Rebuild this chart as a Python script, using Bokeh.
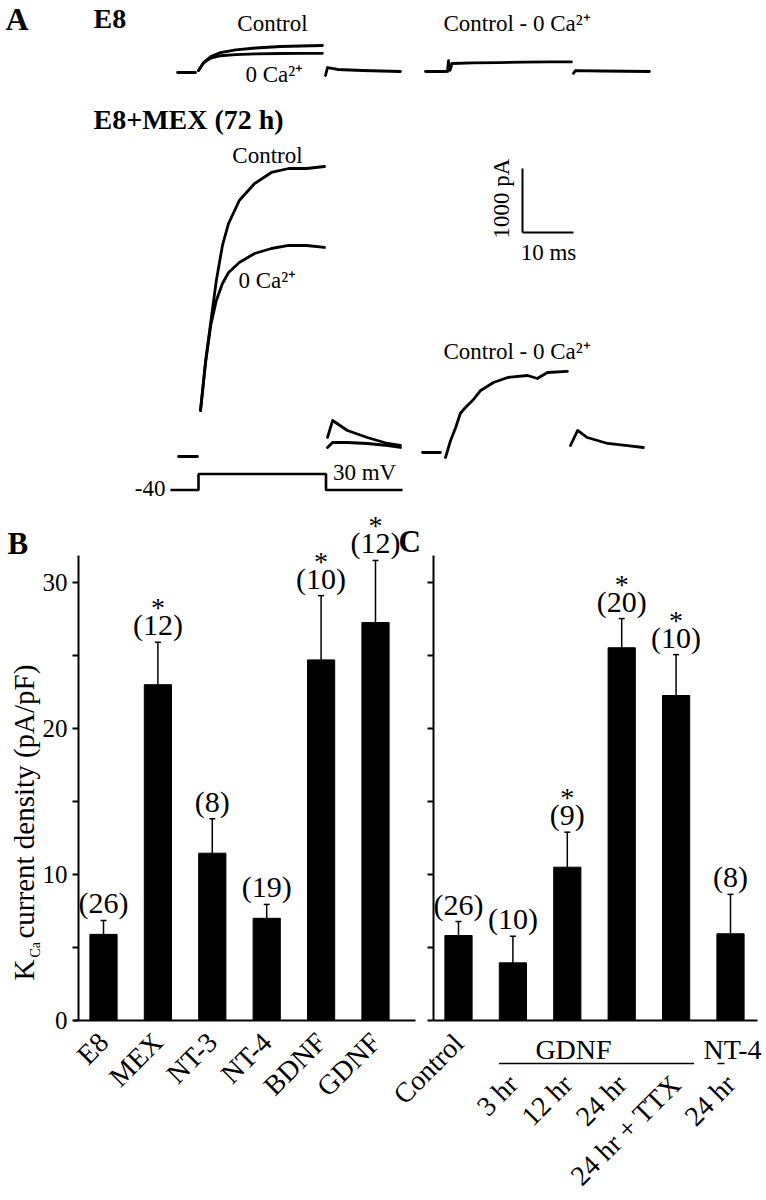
from math import pi
from bokeh.plotting import figure
from bokeh.layouts import column
from bokeh.models import (Range1d, FixedTicker, Label, LabelSet, Whisker, TeeHead,
                          ColumnDataSource, LinearAxis)
from bokeh.embed import file_html
from bokeh.resources import INLINE
from bokeh.core.properties import value

SERIF = "Liberation Serif"

# ---------------- Panel A : current traces (time in ms, current in pA) ----------------
e8_pre_t = [-4.1, -0.6]
e8_pre_i = [0, 0]
e8_pulse_t = [0.0, 1.0, 2.4, 4.3, 7.3, 11.2, 16.1, 20.0, 24.3]
e8_ctl_i = [30, 156, 250, 312, 352, 383, 406, 414, 422]
e8_0ca_i = [30, 150, 225, 262, 280, 290, 297, 300, 300]
e8_tail_t = [24.9, 25.3, 27.3, 32.2, 39.6]
e8_tail_i = [-47, 78, 47, 31, 16]

e8d_pre_t = [-4.3, -0.4]
e8d_pre_i = [0, 0]
e8d_pulse_t = [0.0, 0.2, 0.5, 0.9, 5.0, 10.0, 15.0, 20.0, 24.3]
e8d_pulse_i = [0, 170, 20, 125, 135, 140, 145, 150, 150]
e8d_tail_t = [24.7, 25.1, 30.2, 39.6]
e8d_tail_i = [-30, 15, 8, 0]

mex_pre_t = [-4.1, -0.4]
mex_pre_i = [0, 0]
mex_pulse_t = [0.2, 1.2, 2.2, 3.3, 4.5, 5.7, 7.8, 10.8, 14.1, 17.5, 21.0, 24.5]
mex_ctl_i = [719, 1500, 2094, 2750, 3297, 3641, 4000, 4266, 4438, 4500, 4500, 4531]
mex_0ca_i = [719, 1469, 2047, 2438, 2703, 2875, 3031, 3172, 3250, 3297, 3297, 3266]
mex_tail_t = [25.1, 26.1, 29.0, 32.9, 36.9, 39.4]
mex_ctl_tail_i = [297, 562, 406, 297, 203, 172]
mex_0ca_tail_i = [141, 219, 219, 203, 172, 141]

mexd_pre_t = [-4.5, -1.0]
mexd_pre_i = [0, 0]
mexd_pulse_t = [0.0, 1.0, 2.0, 2.9, 3.9, 5.3, 6.9, 9.4, 12.2, 16.1, 18.0, 20.0, 23.9]
mexd_pulse_i = [-78, 188, 391, 609, 703, 812, 969, 1094, 1172, 1203, 1156, 1250, 1266]
mexd_tail_t = [24.5, 25.9, 27.8, 31.8, 35.7, 38.8]
mexd_tail_i = [109, 344, 234, 141, 109, 78]

# voltage protocol (ms, mV)
v_t = [-5.5, 0, 0, 25, 25, 40]
v_mv = [-40, -40, 30, 30, -40, -40]
V_HOLD = -40

# scale bar sizes
SB_MS = 10
SB_PA = 1000

# ---------------- Panel B ----------------
b_labels = ["E8", "MEX", "NT-3", "NT-4", "BDNF", "GDNF"]
b_means = [5.9, 23.0, 11.46, 7.0, 24.7, 27.26]
b_sem = [0.95, 2.9, 2.35, 0.95, 4.4, 4.25]
b_n = [26, 12, 8, 19, 10, 12]
b_sig = [False, True, False, False, True, True]

# ---------------- Panel C ----------------
c_labels = ["Control", "3 hr", "12 hr", "24 hr", "24 hr + TTX", "24 hr"]
c_groups = ["", "GDNF", "GDNF", "GDNF", "GDNF", "NT-4"]
c_means = [5.82, 3.95, 10.5, 25.53, 22.26, 5.94]
c_sem = [0.96, 1.82, 2.4, 2.0, 2.8, 2.7]
c_n = [26, 10, 9, 20, 10, 8]
c_sig = [False, False, True, True, True, False]

y_ticks = [0, 10, 20, 30]
y_minor = [5, 15, 25]
Y_TOP = 31.85

W = 766

# ======================= Panel A figure =======================
HA = 502
PX_MS = 5.1
PX_PA = 0.064
PX_MV = 16 / 70


def fx(X):
    return X


def fy(Y):
    return HA - Y


pa = figure(width=W, height=HA, x_range=Range1d(0, W), y_range=Range1d(0, HA),
            x_axis_type=None, y_axis_type=None, output_backend="svg",
            toolbar_location=None, min_border=0, outline_line_color=None, title=None)
pa.grid.visible = False

origins = {"e8": (198, 72), "e8d": (447, 71), "mex": (199, 456), "mexd": (445, 452)}
xr, yr = {}, {}
for k, (X0, Y0) in origins.items():
    ox, oy = fx(X0), fy(Y0)
    xr[k] = Range1d(-ox / PX_MS, (W - ox) / PX_MS)
    yr[k] = Range1d(-oy / PX_PA, (HA - oy) / PX_PA)
ox, oyv = fx(198), fy(489.5)
xr["v"] = Range1d(-ox / PX_MS, (W - ox) / PX_MS)
yr["v"] = Range1d(V_HOLD - oyv / PX_MV, V_HOLD + (HA - oyv) / PX_MV)
pa.extra_x_ranges = xr
pa.extra_y_ranges = yr


def trace(t, i, k, lw=2.8):
    pa.line(t, i, x_range_name=k, y_range_name=k, line_color="black",
            line_width=lw, line_join="round", line_cap="round")


trace(e8_pre_t, e8_pre_i, "e8")
trace(e8_pulse_t, e8_ctl_i, "e8")
trace(e8_pulse_t, e8_0ca_i, "e8")
trace(e8_tail_t, e8_tail_i, "e8")
trace(e8d_pre_t, e8d_pre_i, "e8d")
trace(e8d_pulse_t, e8d_pulse_i, "e8d")
trace(e8d_tail_t, e8d_tail_i, "e8d")
trace(mex_pre_t, mex_pre_i, "mex")
trace(mex_pulse_t, mex_ctl_i, "mex")
trace(mex_pulse_t, mex_0ca_i, "mex")
trace(mex_tail_t, mex_ctl_tail_i, "mex")
trace(mex_tail_t, mex_0ca_tail_i, "mex")
trace(mexd_pre_t, mexd_pre_i, "mexd")
trace(mexd_pulse_t, mexd_pulse_i, "mexd")
trace(mexd_tail_t, mexd_tail_i, "mexd")
pa.line(v_t, v_mv, x_range_name="v", y_range_name="v", line_color="black", line_width=2.6)

# scale bar (placed in the MEX panel's coordinates)
SB_T0 = (522 - 199) / PX_MS
SB_I0 = (456 - 232) / PX_PA
pa.segment(x0=[SB_T0, SB_T0], y0=[SB_I0, SB_I0], x1=[SB_T0, SB_T0 + SB_MS],
           y1=[SB_I0 + SB_PA, SB_I0], x_range_name="mex", y_range_name="mex",
           line_color="black", line_width=2)


def alabel(X, Y, text, size="23px", bold=False, align="left", angle=0):
    pa.add_layout(Label(x=fx(X), y=fy(Y), text=text, text_font=SERIF, text_font_size=size,
                        text_font_style="bold" if bold else "normal", text_align=align,
                        text_baseline="middle", angle=angle, text_color="black"))


alabel(5, 18, "A", size="32px", bold=True)
alabel(93, 17.5, "E8", size="28px", bold=True)
alabel(93, 119, "E8+MEX (72 h)", size="28px", bold=True)
alabel(272, 22.5, "Control", align="center")
alabel(245, 73.5, "0 Ca²⁺")
alabel(443, 22.5, "Control - 0 Ca²⁺")
alabel(267, 155, "Control", align="center")
alabel(238, 280, "0 Ca²⁺")
alabel(443, 350.5, "Control - 0 Ca²⁺")
alabel(501, 198, "1000 pA", align="center", angle=pi / 2)
alabel(548, 251.5, "10 ms", align="center")
alabel(165, 488, "-40", align="right")
alabel(364, 472, "30 mV", align="center")

# ======================= Panels B and C (one canvas, two axis systems) =======================
HB = 1200 - HA
TOP_B = HA            # page y of the canvas top
BASE_Y = 1020         # page y of value 0
PX_X = 54.4
PX_Y = 14.6
B_X0, C_X0 = 103, 458  # page x of the first bar of each panel
C_OFF = (C_X0 - B_X0) / PX_X


def dx(X):
    return (X - B_X0) / PX_X


def dy(Y):
    return (BASE_Y - Y) / PX_Y


pbc = figure(width=W, height=HB, x_range=Range1d(dx(0), dx(W)),
             y_range=Range1d(dy(TOP_B + HB), dy(TOP_B)),
             x_axis_type=None, y_axis_type=None, output_backend="svg",
             toolbar_location=None, min_border=0, outline_line_color=None, title=None)
pbc.grid.visible = False


def add_bars(offset, means, sem, ns, sig):
    x = [offset + i for i in range(len(means))]
    upper = [m + s for m, s in zip(means, sem)]
    src = ColumnDataSource(dict(x=x, top=means, upper=upper, ntext=[f"({k})" for k in ns]))
    pbc.vbar(x="x", top="top", bottom=0, width=0.5, source=src, fill_color="black",
             line_color="black")
    pbc.add_layout(Whisker(source=src, base="x", lower="top", upper="upper",
                           dimension="height", line_width=1.5, line_color="black",
                           upper_head=TeeHead(size=6, line_width=1.5, line_color="black"),
                           lower_head=None))
    pbc.add_layout(LabelSet(source=src, x="x", y="upper", text="ntext", text_align="center",
                            text_baseline="alphabetic", y_offset=7, text_font=value(SERIF),
                            text_font_size="30px", text_color="black"))
    ssrc = ColumnDataSource(dict(x=[a for a, s in zip(x, sig) if s],
                                 upper=[u for u, s in zip(upper, sig) if s],
                                 star=["*" for s in sig if s]))
    pbc.add_layout(LabelSet(source=ssrc, x="x", y="upper", text="star", text_align="center",
                            text_baseline="alphabetic", y_offset=25, text_font=value(SERIF),
                            text_font_size="28px", text_color="black"))
    return x


def add_yaxis(loc, show_labels):
    ax = LinearAxis(fixed_location=loc, bounds=(0, Y_TOP),
                    ticker=FixedTicker(ticks=y_ticks, minor_ticks=y_minor),
                    axis_line_width=2, axis_line_color="black",
                    major_tick_line_width=2, minor_tick_line_width=2,
                    major_tick_line_color="black", minor_tick_line_color="black",
                    major_tick_out=6, major_tick_in=0, minor_tick_out=6, minor_tick_in=0,
                    major_label_text_font=SERIF, major_label_text_font_size="25px",
                    major_label_text_color="black" if show_labels else None,
                    major_label_standoff=5)
    pbc.add_layout(ax, "left")


def add_xaxis(ticks, labels, standoff, bounds=None):
    ax = LinearAxis(fixed_location=0, ticker=FixedTicker(ticks=ticks),
                    major_label_overrides={t: l for t, l in zip(ticks, labels)},
                    major_label_standoff=standoff, major_label_orientation=pi / 4,
                    major_tick_out=0, major_tick_in=0, minor_tick_out=0, minor_tick_in=0,
                    major_label_text_font=SERIF, major_label_text_font_size="28px",
                    major_label_text_color="black", axis_line_width=2,
                    axis_line_color="black" if bounds else None)
    if bounds:
        ax.bounds = bounds
    pbc.add_layout(ax, "below")


# panel B
xb = add_bars(0, b_means, b_sem, b_n, b_sig)
add_yaxis(dx(78), True)
add_xaxis(xb, b_labels, 17, bounds=(dx(73), dx(415)))

# panel C
xc = add_bars(C_OFF, c_means, c_sem, c_n, c_sig)
add_yaxis(C_OFF + dx(433) - dx(C_X0), False)
top_level = [i for i, g in enumerate(c_groups) if g == ""]
in_group = [i for i, g in enumerate(c_groups) if g != ""]
add_xaxis([xc[i] for i in top_level], [c_labels[i] for i in top_level], 18,
          bounds=(C_OFF + dx(433) - dx(C_X0), C_OFF + dx(757) - dx(C_X0)))
add_xaxis([xc[i] for i in in_group], [c_labels[i] for i in in_group], 59)


def blabel(X, Y, text, size, bold=False, align="left", angle=0):
    pbc.add_layout(Label(x=dx(X), y=dy(Y), text=text, text_font=SERIF, text_font_size=size,
                         text_font_style="bold" if bold else "normal", text_align=align,
                         text_baseline="middle", angle=angle, text_color="black"))


# panel letters
blabel(7, 542.5, "B", "31px", bold=True)
blabel(398, 541, "C", "31px", bold=True)

# y-axis title assembled from pieces (K with subscript Ca)
blabel(23, 980, "K", "29px", angle=pi / 2)
blabel(35, 957, "Ca", "14px", angle=pi / 2)
blabel(23, 938, "current density (pA/pF)", "29px", angle=pi / 2)

# group labels with underlines (panel C)
group_text_x = {"GDNF": 573, "NT-4": 732}
group_line_pad = {"GDNF": (14, 18), "NT-4": (13, -6)}
seg_x0, seg_x1 = [], []
for g in ["GDNF", "NT-4"]:
    members = [xc[i] for i, gg in enumerate(c_groups) if gg == g]
    blabel(group_text_x[g], 1049, g, "28px", align="center")
    seg_x0.append(members[0] - group_line_pad[g][0] / PX_X)
    seg_x1.append(members[-1] + group_line_pad[g][1] / PX_X)
uy = dy(1063)
pbc.segment(x0=seg_x0, y0=[uy] * len(seg_x0), x1=seg_x1, y1=[uy] * len(seg_x0),
            line_color="black", line_width=1.5)

layout = column(pa, pbc)
open("out.html", "w").write(file_html(layout, INLINE))
